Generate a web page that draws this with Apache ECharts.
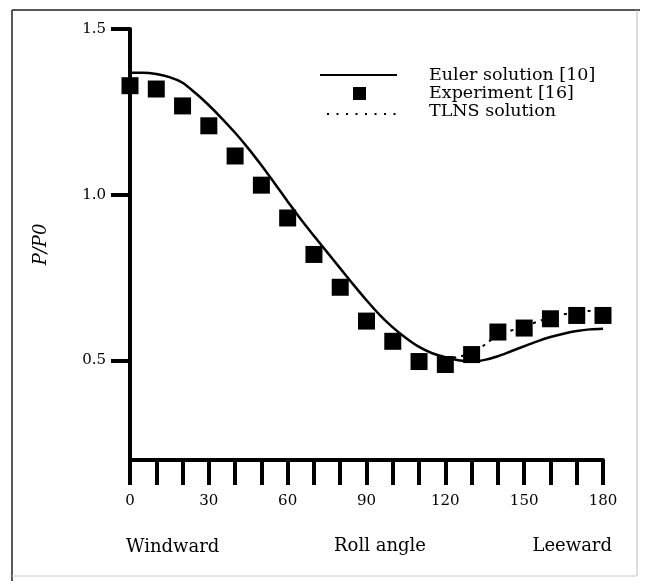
<!DOCTYPE html>
<html>
<head>
<meta charset="utf-8">
<script src="https://cdn.jsdelivr.net/npm/echarts@6/dist/echarts.min.js"></script>
<style>html,body{margin:0;padding:0;background:#fff}#c{width:645px;height:581px}</style>
</head>
<body>
<div id="c"></div>
<script>
// Data
const angles = [0,10,20,30,40,50,60,70,80,90,100,110,120,130,140,150,160,170,180];
const experiment = [1.329,1.319,1.268,1.208,1.117,1.029,0.930,0.820,0.721,0.619,0.558,0.497,0.488,0.518,0.586,0.598,0.626,0.636,0.636];
const eulerAngles = [0,5,10,15,20,25,30,35,40,45,50,55,60,65,70,75,80,85,90,95,100,105,110,115,120,125,130,135,140,145,150,155,160,165,170,175,180];
const euler = [1.368,1.368,1.364,1.355,1.338,1.306,1.270,1.230,1.187,1.140,1.089,1.035,0.980,0.926,0.876,0.827,0.778,0.729,0.682,0.638,0.600,0.568,0.541,0.522,0.510,0.501,0.497,0.502,0.513,0.528,0.543,0.558,0.571,0.581,0.589,0.594,0.596];
const tlnsAngles = [120,130,140,150,160,170,180];
const tlns = [0.505,0.522,0.575,0.603,0.630,0.646,0.652];
const xTickLabels = [0,30,60,90,120,150,180];
const yTickLabels = [0.5,1.0,1.5];
const legendNames = ['Euler solution [10]','Experiment [16]','TLNS solution'];
const bottomLabels = ['Windward','Roll angle','Leeward'];

const FONT = '"DejaVu Serif", "Liberation Serif", serif';
const zip = (xs, ys) => xs.map((x, i) => [x, ys[i]]);

const chart = echarts.init(document.getElementById('c'), null, {renderer: 'canvas'});
chart.setOption({
  animation: false,
  backgroundColor: '#fff',
  grid: {left: 130, right: 42, top: 29, bottom: 121, containLabel: false},
  xAxis: {
    type: 'value', min: 0, max: 180, interval: 10,
    axisLine: {show: true, onZero: false, lineStyle: {color: '#000', width: 4}},
    axisTick: {show: true, inside: false, length: 25, lineStyle: {color: '#000', width: 4}},
    axisLabel: {customValues: xTickLabels, margin: 34, color: '#000', fontFamily: FONT, fontSize: 15},
    splitLine: {show: false}
  },
  yAxis: {
    type: 'value', min: 0.2, max: 1.5,
    name: 'P/P0', nameLocation: 'middle', nameRotate: 90, nameGap: 80,
    nameTextStyle: {fontFamily: FONT, fontStyle: 'italic', fontSize: 18, color: '#000'},
    axisLine: {show: true, onZero: false, lineStyle: {color: '#000', width: 4}},
    axisTick: {show: true, inside: false, length: 19, customValues: yTickLabels, lineStyle: {color: '#000', width: 4}},
    axisLabel: {customValues: yTickLabels, margin: 24, color: '#000', fontFamily: FONT, fontSize: 15,
      formatter: v => v.toFixed(1)},
    splitLine: {show: false}
  },
  series: [
    {name: legendNames[0], type: 'line', data: zip(eulerAngles, euler), smooth: 0.3, symbol: 'none',
     lineStyle: {color: '#000', width: 2.5}, z: 3},
    {name: legendNames[2], type: 'line', data: zip(tlnsAngles, tlns), smooth: 0.3, symbol: 'none',
     lineStyle: {color: '#000', width: 2, type: [3, 5]}, z: 3},
    {name: legendNames[1], type: 'scatter', data: zip(angles, experiment), symbol: 'rect', symbolSize: 17,
     itemStyle: {color: '#000', opacity: 1}, clip: false, z: 4}
  ],
  graphic: [
    // frame
    {type: 'line', shape: {x1: 12, y1: 10, x2: 640, y2: 10}, style: {stroke: '#222', lineWidth: 1.5}},
    {type: 'line', shape: {x1: 12, y1: 10, x2: 12, y2: 581}, style: {stroke: '#222', lineWidth: 1.5}},
    {type: 'line', shape: {x1: 637, y1: 10, x2: 637, y2: 576}, style: {stroke: '#bbb', lineWidth: 1}},
    {type: 'line', shape: {x1: 12, y1: 576, x2: 637, y2: 576}, style: {stroke: '#ccc', lineWidth: 1}},
    // legend
    {type: 'line', shape: {x1: 320, y1: 75, x2: 397, y2: 75}, style: {stroke: '#000', lineWidth: 2}},
    {type: 'rect', shape: {x: 353, y: 87, width: 13, height: 13}, style: {fill: '#000'}},
    {type: 'line', shape: {x1: 327, y1: 114, x2: 397, y2: 114}, style: {stroke: '#000', lineWidth: 2, lineDash: [2, 7.5]}},
    {type: 'text', x: 429, y: 75, style: {text: legendNames[0], font: '17.5px ' + FONT, fill: '#000', verticalAlign: 'middle'}},
    {type: 'text', x: 429, y: 93, style: {text: legendNames[1], font: '17.5px ' + FONT, fill: '#000', verticalAlign: 'middle'}},
    {type: 'text', x: 429, y: 111, style: {text: legendNames[2], font: '17.5px ' + FONT, fill: '#000', verticalAlign: 'middle'}},
    // bottom labels
    {type: 'text', x: 126, y: 547, style: {text: bottomLabels[0], font: '18px ' + FONT, fill: '#000', align: 'left', verticalAlign: 'middle'}},
    {type: 'text', x: 380, y: 546, style: {text: bottomLabels[1], font: '18px ' + FONT, fill: '#000', align: 'center', verticalAlign: 'middle'}},
    {type: 'text', x: 612, y: 546, style: {text: bottomLabels[2], font: '18px ' + FONT, fill: '#000', align: 'right', verticalAlign: 'middle'}}
  ]
});
</script>
</body>
</html>
